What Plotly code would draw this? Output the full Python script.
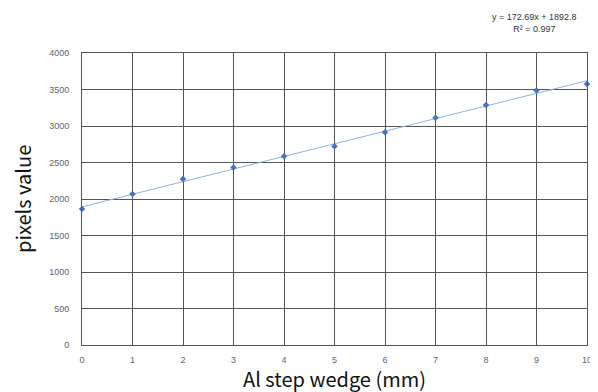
import plotly.graph_objects as go

thickness_mm = [0, 1, 2, 3, 4, 5, 6, 7, 8, 9, 10]
pixel_values = [1863, 2068, 2275, 2432, 2585, 2722, 2914, 3112, 3287, 3488, 3575]
slope = 172.69
intercept = 1892.8
r_squared = 0.997

x_ticks = list(range(0, 11))
y_ticks = list(range(0, 4001, 500))

trend_x = [thickness_mm[0], thickness_mm[-1]]
trend_y = [slope * v + intercept for v in trend_x]

fig = go.Figure()
fig.add_trace(go.Scatter(x=trend_x, y=trend_y, mode="lines",
                         line=dict(color="#8FB0E6", width=1), hoverinfo="skip"))
fig.add_trace(go.Scatter(x=thickness_mm, y=pixel_values, mode="markers",
                         marker=dict(color="#4472C4", size=5, symbol="diamond"),
                         cliponaxis=False))

axis_common = dict(showgrid=True, gridcolor="#555555", gridwidth=1,
                   showline=True, linecolor="#555555", linewidth=1, mirror=True,
                   zeroline=False, ticks="", automargin=False,
                   tickfont=dict(size=9, color="#5A6478", family="Liberation Sans"))

fig.update_xaxes(range=[0, 10], tickvals=x_ticks, ticklabelstandoff=6, **axis_common)
fig.update_yaxes(range=[0, 4000], tickvals=y_ticks, ticklabelstandoff=10, **axis_common)

title_font = dict(size=20, color="#111111", family="Noto Sans CJK JP")
fig.add_annotation(xref="paper", yref="paper", x=0.5, y=0, yshift=-33,
                   text="Al step wedge (mm)", showarrow=False,
                   xanchor="center", yanchor="middle", font=title_font)
fig.add_annotation(xref="paper", yref="paper", x=0, xshift=-60, y=0.5,
                   text="pixels value", showarrow=False, textangle=-90,
                   xanchor="center", yanchor="middle", font=title_font)

fig.add_annotation(xref="paper", yref="paper", x=0.897, y=1.0, yshift=43,
                   text=f"y = {slope}x + {intercept}<br>R² = {r_squared}",
                   showarrow=False, align="center", xanchor="center", yanchor="top",
                   font=dict(size=9, color="#333333", family="Liberation Sans"))

# page body adds an 8px offset, so the figure is sized to fit inside the window
fig.update_layout(width=590, height=384, margin=dict(l=74, r=11, t=45, b=47),
                  plot_bgcolor="white", paper_bgcolor="white", showlegend=False)

fig.write_html("out.html")
